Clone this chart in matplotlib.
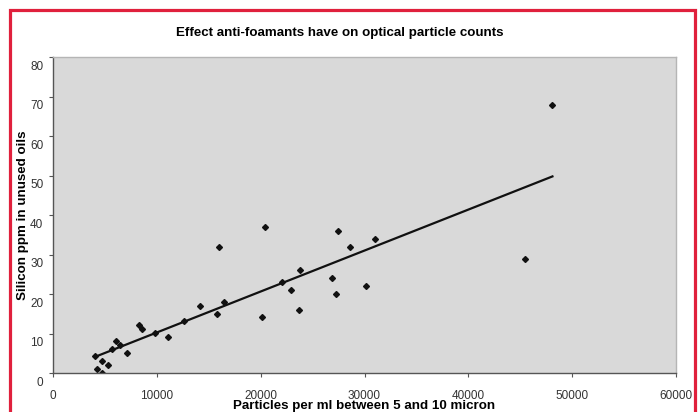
import matplotlib
matplotlib.use('Agg')
from matplotlib import pyplot as plt
from matplotlib.patches import Rectangle
import matplotlib.transforms as mtransforms
import numpy as np

plt.rcParams['font.family'] = ['Liberation Sans', 'DejaVu Sans']

# particles per ml (5-10 micron) vs silicon ppm
particles = [4020, 4210, 4700, 4750, 5330, 5720, 6070, 6460, 7130, 8320,
             8550, 9860, 11120, 12600, 14170, 15780, 15940, 16480, 20150,
             20370, 22050, 22880, 23810, 23710, 26870, 27210, 27410, 28630,
             30970, 30110, 45470, 48100]
silicon = [4.2, 1.1, 0.1, 3.1, 2.1, 6.1, 8.1, 7.1, 5.1, 12.1,
           11.1, 10.1, 9.2, 13.1, 17.0, 15.0, 31.9, 18.0, 14.1,
           36.9, 23.0, 21.0, 26.0, 16.0, 24.0, 20.0, 36.0, 31.9,
           33.9, 22.0, 28.9, 67.9]

x_ticks = [0, 10000, 20000, 30000, 40000, 50000, 60000]
y_ticks = [0, 10, 20, 30, 40, 50, 60, 70, 80]

fig = plt.figure(figsize=(6.98, 4.12), dpi=100)
W, H = 698, 412
ax = fig.add_axes([53 / W, 1 - 373 / H, (676 - 53) / W, (373 - 57) / H])
ax.set_facecolor('#d9d9d9')

x = np.array(particles, dtype=float)
y = np.array(silicon, dtype=float)
ax.plot(x, y, linestyle='none', marker='D', markersize=3.0, color='#111111')

# linear trend line over the data range
m, b = np.polyfit(x, y, 1)
xs = np.array([x.min(), x.max()])
ax.plot(xs, m * xs + b, color='#111111', linewidth=1.6)

ax.set_xlim(0, 60000)
ax.set_ylim(0, 80)
ax.set_xticks(x_ticks)
ax.set_yticks(y_ticks)
ax.tick_params(direction='out', length=3, width=0.8, colors='#555555',
               labelcolor='#333333', labelsize=8.5)
ax.tick_params(axis='x', pad=9)
ax.tick_params(axis='y', pad=4)

# the scanned y labels sit a little below their ticks
off = mtransforms.ScaledTranslation(0, -6 / 72, fig.dpi_scale_trans)
for lab in ax.get_yticklabels():
    lab.set_transform(lab.get_transform() + off)

for s in ['left', 'bottom']:
    ax.spines[s].set_color('#555555')
    ax.spines[s].set_linewidth(1.0)
for s in ['top', 'right']:
    ax.spines[s].set_color('#b5b5b5')
    ax.spines[s].set_linewidth(1.0)

fig.text(340 / W, 1 - 33 / H, 'Effect anti-foamants have on optical particle counts',
         ha='center', va='center', fontsize=9.6, fontweight='bold')
ax.set_xlabel('Particles per ml between 5 and 10 micron', fontsize=9.6,
              fontweight='bold', labelpad=-1)
ax.set_ylabel('Silicon ppm in unused oils', fontsize=9.6, fontweight='bold',
              labelpad=1)

# red frame around the figure
fig.patches.append(Rectangle((10 / W, -0.1), (695 - 10) / W, 1.1 - 10 / H,
                             transform=fig.transFigure, fill=False,
                             edgecolor='#e0203c', linewidth=2.3))

fig.savefig('out.png', dpi=100)
